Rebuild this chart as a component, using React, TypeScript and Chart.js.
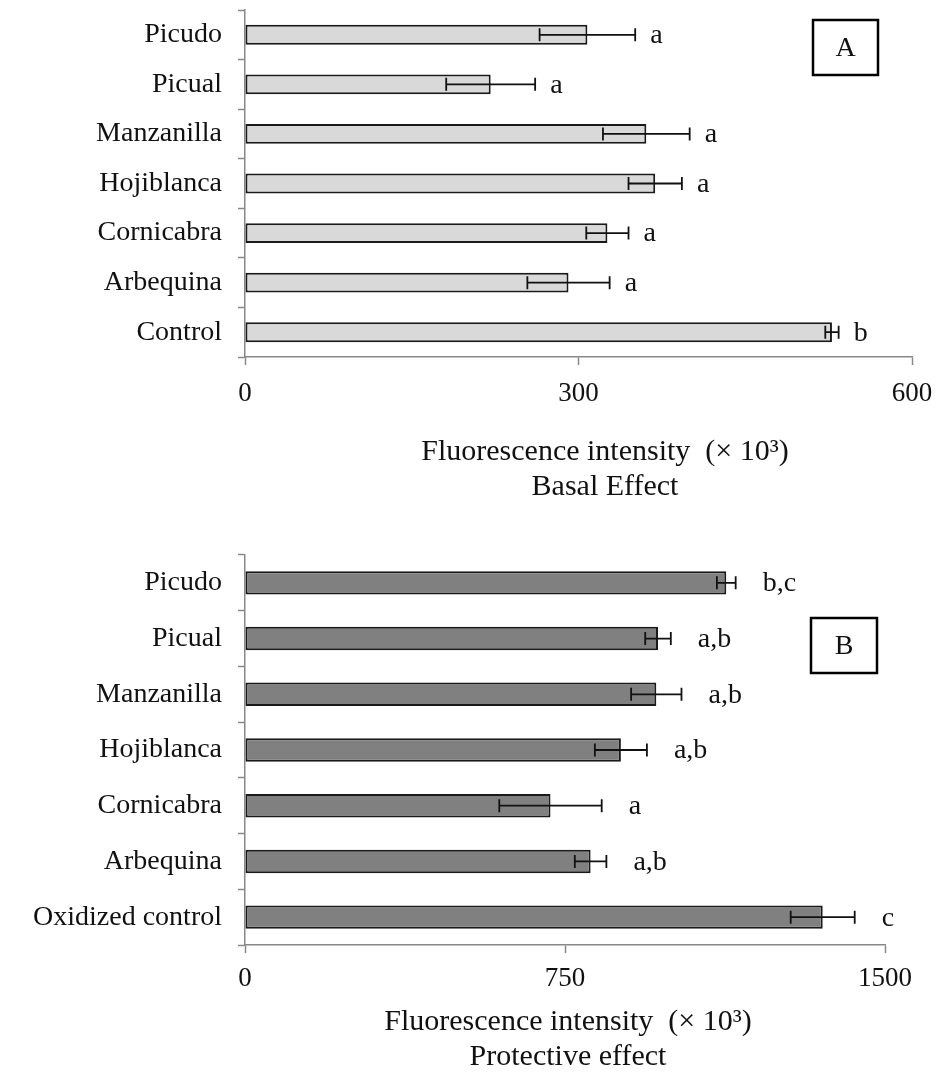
import React, { useEffect, useRef } from 'react';
import { Chart, registerables } from 'chart.js';

Chart.register(...registerables);

// ---------- Data ----------
const basalCategories = ['Picudo', 'Picual', 'Manzanilla', 'Hojiblanca', 'Cornicabra', 'Arbequina', 'Control'];
const basalValues = [308, 221, 361, 369, 326, 291, 528];
const basalErrors = [43, 40, 39, 24, 19, 37, 6];
const basalLetters = ['a', 'a', 'a', 'a', 'a', 'a', 'b'];
const basalTicks = [0, 300, 600];
const basalTitle = ['Fluorescence intensity  (× 10³)', 'Basal Effect'];

const protCategories = ['Picudo', 'Picual', 'Manzanilla', 'Hojiblanca', 'Cornicabra', 'Arbequina', 'Oxidized control'];
const protValues = [1128, 968, 964, 881, 716, 810, 1354];
const protErrors = [22, 30, 59, 61, 120, 37, 75];
const protLetters = ['b,c', 'a,b', 'a,b', 'a,b', 'a', 'a,b', 'c'];
const protTicks = [0, 750, 1500];
const protTitle = ['Fluorescence intensity  (× 10³)', 'Protective effect'];

const FONT = "'Liberation Serif', 'Times New Roman', serif";

type Cfg = {
  categories: string[];
  values: number[];
  errors: number[];
  letters: string[];
  ticks: number[];
  title: string[];
  panel: string;
  fill: string;
  barPct: number;
  width: number;
  height: number;
  padTop: number;
  padRight: number;
  yAxisWidth: number;
  xAxisHeight: number;
  xTickPad: number;
  letterGap: number;
  box: { x: number; y: number; w: number; h: number };
  titleX: number;
  titleY: number[];
};

function makeChart(canvas: HTMLCanvasElement, cfg: Cfg) {
  const annot = {
    id: 'annot',
    afterDatasetsDraw(chart: any) {
      const ctx = chart.ctx as CanvasRenderingContext2D;
      const meta = chart.getDatasetMeta(0);
      const xs = chart.scales.x;
      ctx.save();
      ctx.strokeStyle = '#111';
      ctx.fillStyle = '#111';
      ctx.lineWidth = 1.8;
      meta.data.forEach((bar: any, i: number) => {
        const v = cfg.values[i];
        const e = cfg.errors[i];
        const x0 = xs.getPixelForValue(v - e);
        const x1 = xs.getPixelForValue(v + e);
        const y = bar.y;
        const cap = 6.5;
        ctx.beginPath();
        ctx.moveTo(x0, y);
        ctx.lineTo(x1, y);
        ctx.moveTo(x0, y - cap);
        ctx.lineTo(x0, y + cap);
        ctx.moveTo(x1, y - cap);
        ctx.lineTo(x1, y + cap);
        ctx.stroke();
        ctx.font = `28px ${FONT}`;
        ctx.textAlign = 'left';
        ctx.textBaseline = 'middle';
        ctx.fillText(cfg.letters[i], x1 + cfg.letterGap, y + 1);
      });
      ctx.restore();
    },
    afterDraw(chart: any) {
      const ctx = chart.ctx as CanvasRenderingContext2D;
      ctx.save();
      const b = cfg.box;
      ctx.strokeStyle = '#000';
      ctx.lineWidth = 2.5;
      ctx.strokeRect(b.x, b.y, b.w, b.h);
      ctx.fillStyle = '#111';
      ctx.font = `28px ${FONT}`;
      ctx.textAlign = 'center';
      ctx.textBaseline = 'middle';
      ctx.fillText(cfg.panel, b.x + b.w / 2, b.y + b.h / 2 + 1);
      ctx.font = `30px ${FONT}`;
      cfg.title.forEach((t, i) => ctx.fillText(t, cfg.titleX, cfg.titleY[i]));
      ctx.restore();
    },
  };

  return new Chart(canvas, {
    type: 'bar',
    data: {
      labels: cfg.categories,
      datasets: [
        {
          data: cfg.values,
          backgroundColor: cfg.fill,
          borderColor: '#1a1a1a',
          borderWidth: 2,
          borderSkipped: false,
          barPercentage: cfg.barPct,
          categoryPercentage: 1,
        },
      ],
    },
    options: {
      indexAxis: 'y',
      responsive: false,
      animation: false,
      layout: { padding: { top: cfg.padTop, right: cfg.padRight, left: 0, bottom: 0 } },
      plugins: { legend: { display: false }, tooltip: { enabled: false }, title: { display: false } },
      scales: {
        x: {
          min: cfg.ticks[0],
          max: cfg.ticks[cfg.ticks.length - 1],
          afterBuildTicks: (s: any) => {
            s.ticks = cfg.ticks.map((v) => ({ value: v }));
          },
          afterFit: (s: any) => {
            s.height = cfg.xAxisHeight;
            s.paddingLeft = 0;
            s.paddingRight = 0;
          },
          grid: { drawOnChartArea: false, color: '#888', tickLength: 8, tickWidth: 1.5 },
          border: { color: '#888', width: 1.5 },
          ticks: {
            color: '#111',
            font: { family: FONT, size: 27 },
            padding: cfg.xTickPad,
            maxRotation: 0,
            callback: (v: any) => String(v),
          },
        },
        y: {
          afterFit: (s: any) => {
            s.width = cfg.yAxisWidth;
            s.paddingTop = 0;
            s.paddingBottom = 0;
          },
          grid: { drawOnChartArea: false, offset: true, color: '#888', tickLength: 7, tickWidth: 1.5 },
          border: { color: '#888', width: 1.5 },
          ticks: { color: '#111', font: { family: FONT, size: 28 }, padding: 16, autoSkip: false },
        },
      },
    },
    plugins: [annot],
  } as any);
}

const cfgA: Cfg = {
  categories: basalCategories,
  values: basalValues,
  errors: basalErrors,
  letters: basalLetters,
  ticks: basalTicks,
  title: basalTitle,
  panel: 'A',
  fill: '#d9d9d9',
  barPct: 0.4,
  width: 940,
  height: 530,
  padTop: 10,
  padRight: 28,
  yAxisWidth: 245,
  xAxisHeight: 173,
  xTickPad: 13,
  letterGap: 15,
  box: { x: 813, y: 20, w: 65, h: 55 },
  titleX: 605,
  titleY: [452, 487],
};

const cfgB: Cfg = {
  categories: protCategories,
  values: protValues,
  errors: protErrors,
  letters: protLetters,
  ticks: protTicks,
  title: protTitle,
  panel: 'B',
  fill: '#808080',
  barPct: 0.42,
  width: 940,
  height: 548,
  padTop: 25,
  padRight: 55,
  yAxisWidth: 245,
  xAxisHeight: 133,
  xTickPad: 10,
  letterGap: 27,
  box: { x: 811, y: 88, w: 66, h: 55 },
  titleX: 568,
  titleY: [492, 527],
};

function Panel({ cfg, top }: { cfg: Cfg; top: number }) {
  const ref = useRef<HTMLCanvasElement>(null);
  useEffect(() => {
    if (!ref.current) return;
    const chart = makeChart(ref.current, cfg);
    return () => chart.destroy();
  }, [cfg]);
  return (
    <canvas
      ref={ref}
      width={cfg.width}
      height={cfg.height}
      style={{ position: 'absolute', left: 0, top, width: cfg.width, height: cfg.height }}
    />
  );
}

export default function App() {
  return (
    <div style={{ position: 'absolute', left: 0, top: 0, width: 940, height: 1078, background: '#fff' }}>
      <Panel cfg={cfgA} top={0} />
      <Panel cfg={cfgB} top={530} />
    </div>
  );
}
